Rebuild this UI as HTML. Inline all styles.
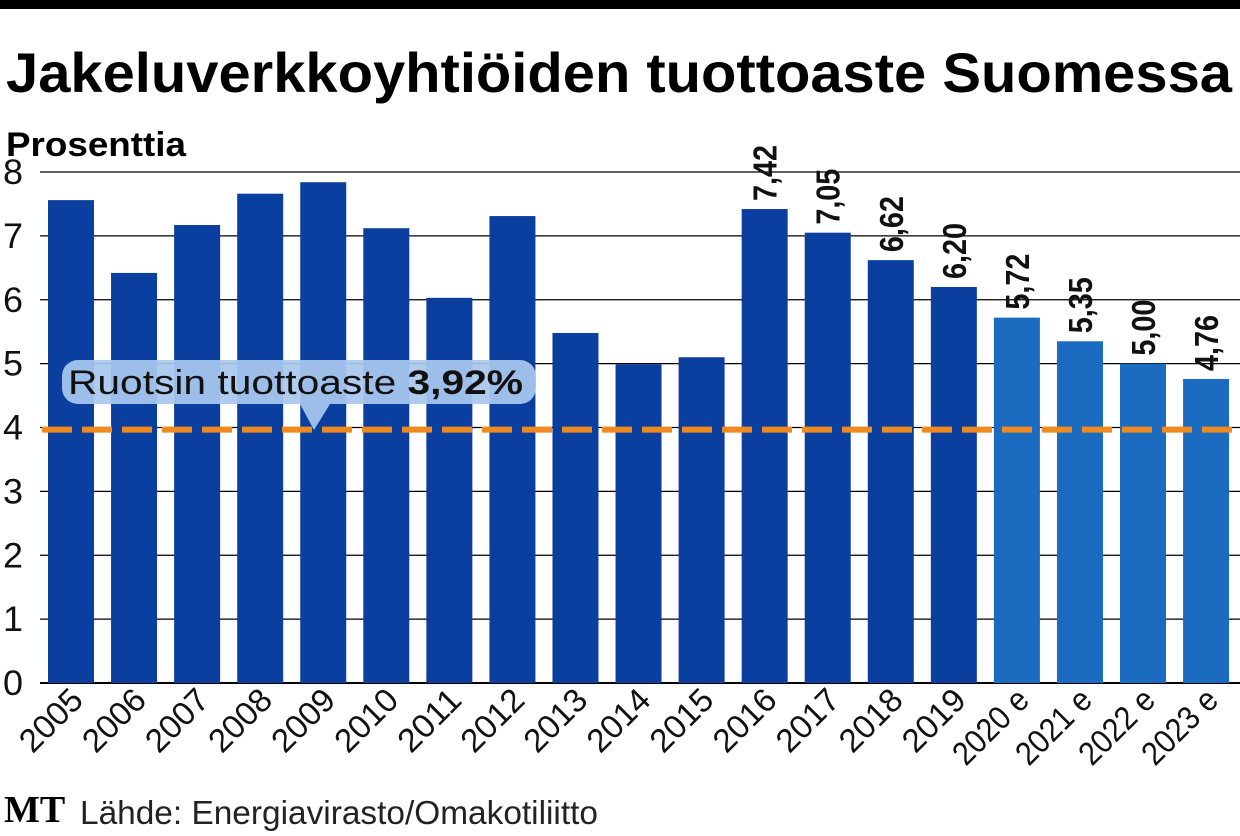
<!DOCTYPE html>
<html><head><meta charset="utf-8"><style>
body{margin:0;background:#fff;}
svg{display:block;font-family:"Liberation Sans",sans-serif;}
</style></head><body>
<svg width="1240" height="836" viewBox="0 0 1240 836" id="chart">
<rect x="0" y="0" width="1240" height="9" fill="#000"/>
<text x="6" y="92" font-size="56" font-weight="bold" textLength="1226" lengthAdjust="spacingAndGlyphs">Jakeluverkkoyhtiöiden tuottoaste Suomessa</text>
<text x="6" y="156" font-size="34" font-weight="bold" textLength="180" lengthAdjust="spacingAndGlyphs">Prosenttia</text>
<g id="grid"></g><g id="bars"></g><g id="labels"></g>
<g>
<path d="M78,360 H520 a16,16 0 0 1 16,16 v12 a16,16 0 0 1 -16,16 H330 L314,430 L300,404 H78 a16,16 0 0 1 -16,-16 v-12 a16,16 0 0 1 16,-16 Z" fill="#a9c8ee" opacity="0.93"/>
<text x="68" y="394" font-size="34" fill="#111" textLength="455" lengthAdjust="spacingAndGlyphs">Ruotsin tuottoaste <tspan font-weight="bold">3,92%</tspan></text>
</g>
<line id="ref" x1="42" x2="1240" stroke="#ef8a1e" stroke-width="6" stroke-dasharray="30,10"/>
<text x="4" y="822" font-family="Liberation Serif,serif" font-size="38" font-weight="bold">MT</text>
<text x="80" y="824" font-size="33" fill="#222" textLength="518" lengthAdjust="spacingAndGlyphs">Lähde: Energiavirasto/Omakotiliitto</text>
</svg>
<script>
const categories=["2005","2006","2007","2008","2009","2010","2011","2012","2013","2014","2015","2016","2017","2018","2019","2020 e","2021 e","2022 e","2023 e"];
const values=[7.56,6.42,7.17,7.66,7.84,7.12,6.03,7.31,5.48,4.99,5.10,7.42,7.05,6.62,6.20,5.72,5.35,5.00,4.76];
const printed=["","","","","","","","","","","","7,42","7,05","6,62","6,20","5,72","5,35","5,00","4,76"];
const estimate=[0,0,0,0,0,0,0,0,0,0,0,0,0,0,0,1,1,1,1];
const yTicks=[0,1,2,3,4,5,6,7,8];
const refValue=3.92;
const NS="http://www.w3.org/2000/svg";
const y=v=>683-v*63.875;
const x=i=>48+i*63.06;
const bw=46;
function mk(t,a,p){const e=document.createElementNS(NS,t);for(const k in a)e.setAttribute(k,a[k]);p.appendChild(e);return e;}
const grid=document.getElementById('grid'),bars=document.getElementById('bars'),labels=document.getElementById('labels');
yTicks.forEach(t=>{
 const l=mk('line',{x1:40,x2:1240,y1:y(t),y2:y(t),stroke:'#000','stroke-width':t===0?2:1.3},grid);
 
 
 const tx=mk('text',{x:3,y:y(t)+12,'font-size':35,fill:'#111',textLength:20,lengthAdjust:'spacingAndGlyphs'},grid);tx.textContent=t;
 
 
});
values.forEach((v,i)=>{
 const r=mk('rect',{x:x(i),y:y(v),width:bw,height:683-y(v),fill:estimate[i]?'#1b6cc1':'#0a3f9f'},bars);
 
 
 const cx=x(i)+bw/2;
 const len=categories[i].length>4?92:74;
 const tl=mk('text',{x:0,y:0,'font-size':33,'text-anchor':'end',fill:'#111',textLength:len,lengthAdjust:'spacingAndGlyphs',transform:`translate(${cx+14},${702}) rotate(-45)`},labels);
 tl.textContent=categories[i];
 
 
 if(printed[i]){
  const vl=mk('text',{x:0,y:0,'font-size':33,'font-weight':'bold',fill:'#111',textLength:56,lengthAdjust:'spacingAndGlyphs',transform:`translate(${cx+12},${y(v)-8}) rotate(-90)`},labels);
  vl.textContent=printed[i];
  
  
 }
});
const ref=document.getElementById('ref');ref.setAttribute('y1',y(refValue)-3);ref.setAttribute('y2',y(refValue)-3);
</script>
</body></html>
